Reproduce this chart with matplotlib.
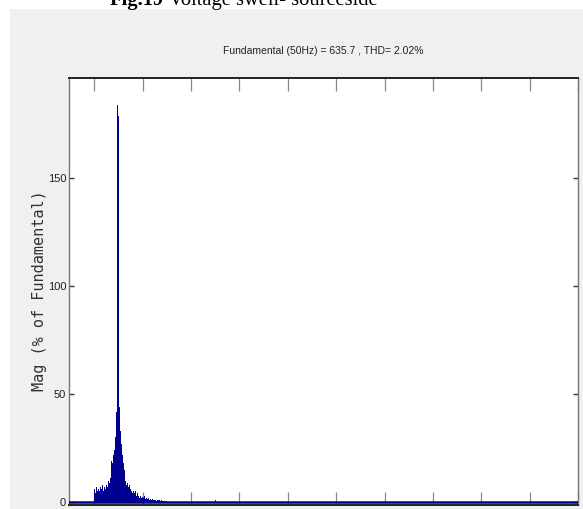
import numpy as np
import matplotlib
matplotlib.use("Agg")
import matplotlib.pyplot as plt
from matplotlib.patches import Rectangle

# ---- data ----
freq_hz = list(range(0, 152, 2))
mag_pct = [6, 4, 7, 5, 6, 5, 7, 6, 8, 5,
           7, 9, 6, 8, 7, 10, 9, 11, 19, 18,
           22, 24, 30, 42, 184, 179, 44, 33, 27, 22,
           18, 15, 10, 8, 9, 7, 8, 6, 5, 4,
           5, 3, 4, 5, 3, 4, 3, 2, 3, 2,
           2.5, 2, 3, 1.5, 2, 1.5, 2, 1, 1.5, 1,
           1.5, 1, 0.8, 1.2, 0.7, 1, 0.8, 1, 0.6, 0.8,
           0.7, 0.6, 0.8, 0.5, 0.6, 0.5]
extra_freq = [250]
extra_mag = [1.2]
xticks = list(range(0, 1001, 100))
yticks = [0, 50, 100, 150]
ytick_labels = ["0", "50", "100", "150"]
title = "Fundamental (50Hz) = 635.7 , THD= 2.02%"
ylabel = "Mag (% of Fundamental)"
caption_bold = "Fig.19"
caption_rest = " Voltage swell- sourceside"

W, H = 583, 509
fig = plt.figure(figsize=(W / 100, H / 100), dpi=100, facecolor="white")

# gray figure panel (behind the axes)
fig.patches.append(Rectangle((10 / W, 0), 1 - 10 / W, (H - 9) / H,
                             transform=fig.transFigure, facecolor="#f0f0f0",
                             edgecolor="none", zorder=-10))

ax = fig.add_axes([69 / W, 1 - 504.5 / H, (578 - 69) / W, (504.5 - 77.7) / H])
ax.set_zorder(1)
ax.set_facecolor("white")

navy = "#000090"
ax.bar(freq_hz, mag_pct, width=2.0, color=navy, linewidth=0, zorder=2)
ax.bar(extra_freq, extra_mag, width=3.0, color=navy, linewidth=0, zorder=2)
ax.axhline(0, color=navy, lw=1.8, zorder=3)

ax.set_xlim(-52.4, 1000)
ax.set_ylim(-1.1, 196.7)

narrow = ["Liberation Sans Narrow", "Liberation Sans", "DejaVu Sans"]
ax.set_xticks(xticks)
ax.set_xticklabels([])
ax.set_yticks(yticks)
ax.set_yticklabels(ytick_labels, family=narrow, fontsize=8, color="#222222")
ax.tick_params(axis="x", which="both", direction="in", length=9.4, width=0.9,
               color="#888888", top=True, bottom=True, labelbottom=False)
ax.tick_params(axis="y", which="both", direction="in", length=3.6, width=1.0,
               color="#333333", left=True, right=True, pad=2)

for side in ("top", "bottom"):
    ax.spines[side].set_color("#222222")
    ax.spines[side].set_linewidth(1.4)
for side in ("left", "right"):
    ax.spines[side].set_color("#777777")
    ax.spines[side].set_linewidth(1.0)

fig.text(323.5 / W, 1 - 51 / H, title, ha="center", va="center",
         family=narrow, fontsize=7.5, color="#222222")

fig.text(40 / W, 1 - 291 / H, ylabel, ha="center", va="center", rotation=90,
         family=["DejaVu Sans Mono"], fontsize=11, color="#333333")

# caption (mostly cropped at the top, as in the reference)
t1 = fig.text(110 / W, 1 - 5 / H, caption_bold, ha="left", va="baseline",
              family=["Liberation Serif"], fontweight="bold", fontsize=14.8, color="black")
fig.canvas.draw()
bb = t1.get_window_extent()
fig.text(bb.x1 / W, 1 - 5 / H, caption_rest, ha="left", va="baseline",
         family=["Liberation Serif"], fontsize=14.8, color="black")

fig.savefig("out.png", dpi=100, facecolor="white")
